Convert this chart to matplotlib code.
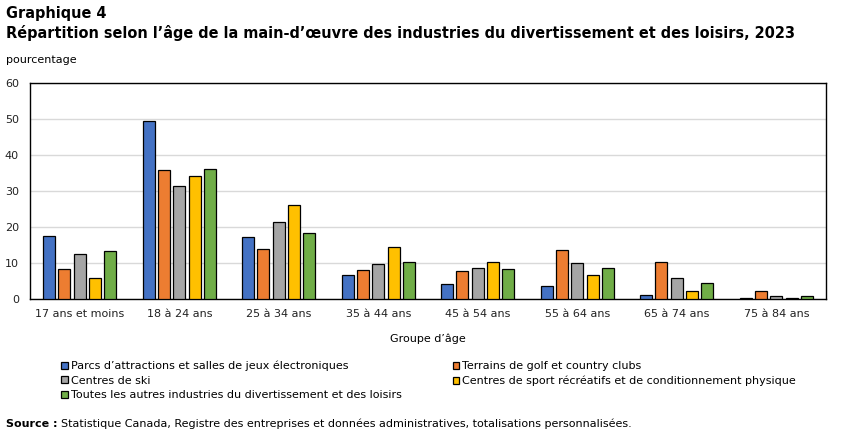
import numpy as np
import matplotlib.pyplot as plt

groupes = ['17 ans et moins', '18 à 24 ans', '25 à 34 ans', '35 à 44 ans',
           '45 à 54 ans', '55 à 64 ans', '65 à 74 ans', '75 à 84 ans']

parcs = [17.5, 49.4, 17.2, 6.7, 4.2, 3.6, 1.1, 0.3]
golf = [8.3, 35.8, 13.9, 8.1, 7.8, 13.6, 10.3, 2.2]
ski = [12.5, 31.4, 21.4, 9.7, 8.6, 10.0, 5.8, 0.8]
sport = [5.8, 34.2, 26.1, 14.4, 10.3, 6.7, 2.2, 0.3]
autres = [13.3, 36.1, 18.3, 10.3, 8.3, 8.6, 4.4, 0.8]

series = [
    ("Parcs d\u2019attractions et salles de jeux électroniques", parcs, '#4472C4'),
    ('Terrains de golf et country clubs', golf, '#ED7D31'),
    ('Centres de ski', ski, '#A5A5A5'),
    ('Centres de sport récréatifs et de conditionnement physique', sport, '#FFC000'),
    ('Toutes les autres industries du divertissement et des loisirs', autres, '#70AD47'),
]

fig = plt.figure(figsize=(8.5, 4.36), dpi=100)
ax = fig.add_axes([0.0353, 0.3142, 0.9365, 0.4954])

x = np.arange(len(groupes))
pas = 0.154
larg = 0.12
barres = []
for i, (nom, vals, coul) in enumerate(series):
    b = ax.bar(x + (i - 2) * pas, vals, larg, color=coul, edgecolor='black',
               linewidth=0.9, label=nom, zorder=3)
    barres.append(b)

ax.set_xlim(-0.5, 7.5)
ax.set_ylim(0, 60)
ax.set_yticks(range(0, 61, 10))
ax.grid(axis='y', color='#d9d9d9', linewidth=1, zorder=0)
ax.tick_params(axis='both', length=0, labelsize=8, colors='#222222')
ax.tick_params(axis='y', pad=8)
ax.tick_params(axis='x', pad=7)
ax.set_xticks(x)
ax.set_xticklabels(groupes)
for s in ax.spines.values():
    s.set_color('black')
    s.set_linewidth(1)

fig.text(0.5035, 0.222, 'Groupe d\u2019âge', ha='center', va='center', fontsize=8)
fig.text(0.007, 0.862, 'pourcentage', ha='left', va='center', fontsize=8)
fig.text(0.007, 0.968, 'Graphique 4', ha='left', va='center', fontsize=10.45, fontweight='bold')
fig.text(0.007, 0.925, 'Répartition selon l\u2019âge de la main-d\u2019\u0153uvre des industries du divertissement et des loisirs, 2023',
         ha='left', va='center', fontsize=10.45, fontweight='bold')

ordre = [0, 2, 4, 1, 3]
fig.legend([barres[i] for i in ordre], [series[i][0] for i in ordre],
           ncol=2, loc='upper left', bbox_to_anchor=(0.072, 0.173), frameon=False,
           fontsize=8, handlelength=0.6, handleheight=0.6, handletextpad=0.25,
           labelspacing=0.42, columnspacing=4.6, borderpad=0, borderaxespad=0)

fig.text(0.007, 0.028, 'Source :', ha='left', va='center', fontsize=8, fontweight='bold')
fig.text(0.072, 0.028, 'Statistique Canada, Registre des entreprises et données administratives, totalisations personnalisées.',
         ha='left', va='center', fontsize=8)

fig.savefig('out.png', dpi=100)
